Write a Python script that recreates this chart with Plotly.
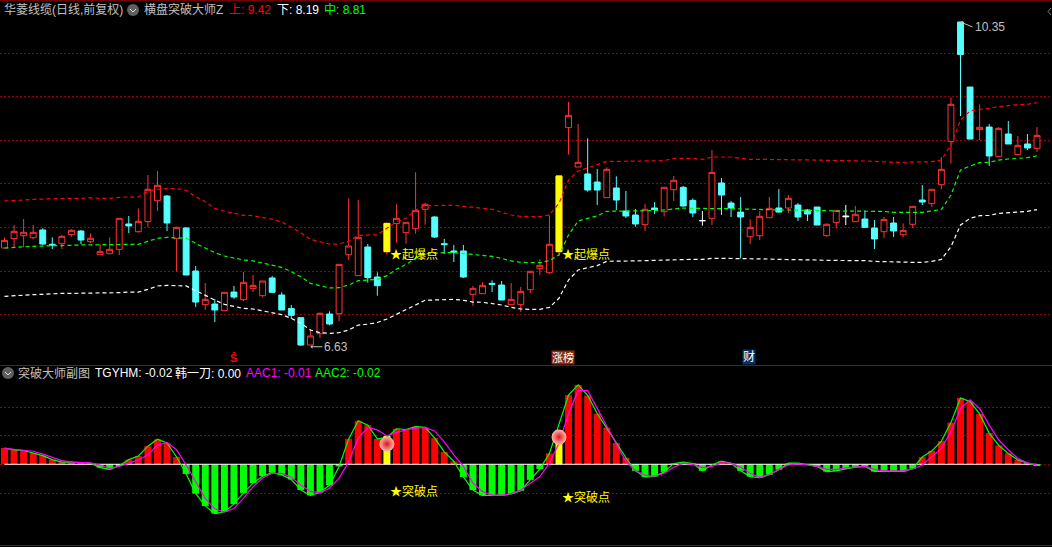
import plotly.graph_objects as go

PAGE_W, PAGE_H = 1052, 547

# Daily candles: open, high, low, close (index 0..108)
highs = [7.87,8.012,8.081,8.012,7.974,7.87,7.897,7.962,7.955,7.916,7.793,7.87,8.089,8.116,8.204,8.588,8.634,8.358,7.993,7.985,7.54,7.344,7.16,7.237,7.31,7.471,7.436,7.367,7.425,7.237,7.091,6.945,6.811,7.006,7.018,7.559,8.319,
         8.30,7.793,7.467,8.031,8.25,8.043,8.619,8.269,8.116,7.851,7.782,7.782,7.31,7.352,7.375,7.367,7.344,7.298,7.479,7.617,8.124,8.577,9.429,9.175,9.01,8.657,8.676,8.573,8.404,8.196,8.254,8.277,8.446,8.577,8.461,8.319,
         8.173,8.876,8.553,8.288,8.334,8.077,8.173,8.334,8.426,8.357,8.265,8.196,8.219,8.031,8.181,8.242,8.231,8.181,8.069,8.104,8.104,8.031,8.227,8.472,8.423,8.795,9.482,10.35,9.601,9.402,9.175,9.14,9.21,9.037,9.06,9.14]
lows = [7.747,7.755,7.755,7.847,7.782,7.736,7.736,7.878,7.793,7.805,7.67,7.682,7.667,7.92,7.924,7.989,8.173,7.943,7.475,7.436,7.068,7.033,6.895,7.026,7.16,7.137,7.24,7.183,7.229,7.033,6.93,6.62,6.63,6.711,6.857,6.907,7.609,
        7.429,7.348,7.198,7.667,7.809,7.797,7.912,8.016,7.862,7.678,7.586,7.402,7.079,7.221,7.24,7.148,7.095,7.01,7.229,7.436,7.452,7.659,8.822,8.68,8.396,8.242,8.327,8.185,8.093,7.993,7.943,8.139,8.108,8.289,8.223,8.104,
        8.004,8.012,8.127,8.104,7.628,7.793,7.839,8.096,8.154,8.15,8.058,8.058,8.012,7.877,7.97,8.012,8.05,7.977,7.735,7.862,7.874,7.874,7.977,8.242,8.219,8.426,8.718,9.267,8.998,8.991,8.691,8.799,8.945,8.822,8.876,8.852]
opens = [7.747,7.855,7.889,7.866,7.955,7.79,7.797,7.901,7.943,7.82,7.67,7.682,7.732,8.024,7.935,8.051,8.292,8.346,7.855,7.978,7.482,7.095,7.102,7.026,7.24,7.152,7.279,7.198,7.402,7.206,7.05,6.945,6.63,6.76,6.987,6.991,7.67,
         7.429,7.759,7.413,7.705,8.028,7.924,7.97,8.193,8.104,7.797,7.713,7.713,7.214,7.221,7.34,7.321,7.095,7.095,7.267,7.509,7.463,7.705,9.133,8.68,8.60,8.507,8.327,8.438,8.173,8.127,8.016,8.208,8.166,8.419,8.446,8.296,
         8.062,8.089,8.496,8.265,8.161,7.877,7.889,8.096,8.208,8.208,8.242,8.185,8.219,7.889,8.039,8.116,8.05,8.081,7.977,7.935,8.035,7.90,8.02,8.30,8.258,8.476,8.975,10.35,9.601,9.11,9.14,8.799,9.06,8.822,8.945,8.891]
closes = [7.835,7.939,7.928,7.928,7.793,7.782,7.882,7.951,7.839,7.859,7.705,7.732,8.089,8.001,8.054,8.423,8.469,8.035,7.985,7.436,7.125,7.156,7.033,7.237,7.183,7.352,7.317,7.367,7.237,7.033,6.972,6.63,6.734,6.995,6.872,7.559,7.77,
          7.87,7.406,7.313,8.031,8.089,8.043,8.181,8.25,7.874,7.786,7.701,7.413,7.283,7.317,7.329,7.148,7.156,7.248,7.479,7.548,7.79,8.577,9.275,8.734,8.415,8.415,8.653,8.30,8.116,8.024,8.193,8.189,8.446,8.527,8.231,8.15,
          8.062,8.618,8.357,8.208,8.104,7.985,8.112,8.204,8.161,8.319,8.104,8.139,8.012,8.02,8.181,8.108,8.135,7.985,7.851,8.077,7.943,7.95,8.227,8.277,8.423,8.653,9.402,9.974,9.002,9.137,8.807,9.125,8.945,8.929,8.899,9.044]

# Candles drawn as white crosses
cross_idx = [73, 88]

# Band lines of the main indicator
upper = [8.289,8.292,8.30,8.308,8.312,8.316,8.316,8.319,8.319,8.327,8.319,8.319,8.331,8.335,8.335,8.40,8.423,8.431,8.431,8.411,8.339,8.281,8.204,8.17,8.143,8.124,8.12,8.10,8.077,8.047,7.985,7.924,7.847,7.816,7.793,7.793,7.824,
         7.893,7.897,7.90,7.974,8.05,8.089,8.185,8.235,8.239,8.239,8.239,8.227,8.216,8.204,8.193,8.158,8.127,8.112,8.112,8.108,8.127,8.262,8.53,8.634,8.669,8.703,8.745,8.745,8.745,8.745,8.745,8.745,8.753,8.78,8.78,8.78,
         8.768,8.795,8.795,8.795,8.78,8.768,8.768,8.768,8.768,8.764,8.764,8.764,8.76,8.757,8.757,8.757,8.753,8.749,8.745,8.737,8.734,8.734,8.734,8.734,8.741,8.76,8.933,9.221,9.325,9.344,9.355,9.375,9.39,9.398,9.402,9.42]
middle = [7.747,7.755,7.763,7.767,7.77,7.77,7.774,7.778,7.782,7.782,7.786,7.786,7.79,7.79,7.79,7.824,7.859,7.87,7.866,7.859,7.801,7.743,7.694,7.655,7.628,7.609,7.598,7.575,7.544,7.525,7.475,7.417,7.34,7.31,7.287,7.29,7.321,
          7.371,7.375,7.386,7.429,7.502,7.559,7.628,7.678,7.69,7.694,7.694,7.682,7.671,7.659,7.651,7.628,7.598,7.582,7.578,7.578,7.601,7.667,7.897,8.058,8.089,8.116,8.17,8.17,8.17,8.17,8.17,8.177,8.185,8.197,8.208,8.204,
          8.20,8.20,8.20,8.20,8.196,8.192,8.188,8.185,8.185,8.185,8.185,8.177,8.177,8.177,8.173,8.173,8.173,8.169,8.169,8.169,8.158,8.158,8.158,8.158,8.173,8.192,8.357,8.645,8.691,8.73,8.734,8.76,8.772,8.776,8.787,8.81]
lower = [7.191,7.198,7.21,7.21,7.214,7.221,7.225,7.225,7.225,7.229,7.225,7.225,7.233,7.24,7.24,7.271,7.31,7.317,7.317,7.31,7.256,7.198,7.148,7.098,7.072,7.052,7.045,7.026,7.006,6.98,6.937,6.88,6.803,6.772,6.765,6.772,6.803,
         6.86,6.87,6.89,6.93,6.983,7.029,7.091,7.145,7.148,7.152,7.156,7.145,7.125,7.122,7.11,7.091,7.064,7.045,7.041,7.041,7.064,7.168,7.379,7.494,7.521,7.544,7.594,7.594,7.594,7.598,7.601,7.605,7.609,7.613,7.617,7.617,
         7.616,7.628,7.628,7.628,7.628,7.62,7.62,7.62,7.616,7.616,7.613,7.609,7.609,7.605,7.605,7.605,7.605,7.601,7.593,7.59,7.582,7.582,7.582,7.582,7.593,7.616,7.762,8.012,8.089,8.119,8.123,8.146,8.158,8.162,8.169,8.19]

# Yellow trigger candles in the main panel
surge_idx = [40, 58]
surge_top = [8.031, 8.577]
surge_bottom = [7.705, 7.705]
surge_label_price = [7.667, 7.667]

# Sub-panel oscillator
aac2 = [.225,.20,.19,.156,.12,.064,.03,.03,.02,.014,-.046,-.07,-.02,.064,.115,.25,.345,.295,.10,-.133,-.405,-.575,-.68,-.655,-.55,-.395,-.26,-.165,-.115,-.147,-.21,-.355,-.43,-.39,-.29,-.03,.35,
        .60,.54,.35,.37,.49,.48,.52,.51,.36,.17,.04,-.175,-.355,-.43,-.43,-.43,-.41,-.365,-.215,-.065,.15,.55,.955,1.095,.95,.70,.505,.295,.09,-.09,-.175,-.17,-.105,.01,.03,.01,
        -.09,-.01,.045,.015,-.09,-.17,-.185,-.145,-.075,.015,.015,-.01,-.03,-.10,-.09,-.065,-.04,-.03,-.10,-.10,-.10,-.10,-.06,.10,.185,.32,.575,.915,.865,.695,.43,.26,.15,.06,.015,-.02]
aac1 = [.22,.21,.195,.18,.14,.095,.05,.03,.025,.02,-.01,-.06,-.03,.015,.06,.13,.265,.30,.20,-.01,-.24,-.47,-.615,-.66,-.61,-.47,-.31,-.19,-.125,-.125,-.18,-.285,-.375,-.39,-.33,-.19,.035,
        .36,.51,.475,.39,.44,.475,.50,.505,.46,.31,.13,-.03,-.26,-.375,-.425,-.425,-.405,-.355,-.26,-.17,.015,.29,.70,1.015,1.015,.77,.52,.265,.035,-.09,-.15,-.165,-.125,-.04,.015,0,
        -.045,-.03,.02,.015,-.04,-.125,-.18,-.145,-.07,-.01,.005,-.01,-.03,-.07,-.07,-.05,-.04,-.03,-.07,-.09,-.09,-.09,-.065,-.01,.105,.22,.45,.77,.89,.77,.54,.335,.20,.08,.02,-.01]
breakout_idx = [40, 58]
breakout_bar = [.39, .473]
ball_value = [.28, .375]
breakout_label_value = [-.382, -.465]

price_grid = [9.99, 9.495, 8.988, 8.489, 7.985, 7.478, 6.983]
osc_grid = [.787, .40, 0, -.40]

index = list(range(len(closes)))
CYAN, RED = "#54FFFF", "#FF3232"
GREY = "#C0C0C0"
CJK = "Liberation Sans, Noto Sans CJK SC"

fig = go.Figure()

plain_idx = [i for i in index if i not in cross_idx]
fig.add_trace(go.Candlestick(
    x=plain_idx,
    open=[opens[i] for i in plain_idx], high=[highs[i] for i in plain_idx],
    low=[lows[i] for i in plain_idx], close=[closes[i] for i in plain_idx],
    increasing=dict(line=dict(color=RED, width=1), fillcolor="#000000"),
    decreasing=dict(line=dict(color=CYAN, width=1), fillcolor=CYAN),
    yaxis="y", hoverinfo="skip"))
fig.add_trace(go.Candlestick(
    x=cross_idx,
    open=[opens[i] for i in cross_idx], high=[highs[i] for i in cross_idx],
    low=[lows[i] for i in cross_idx], close=[closes[i] for i in cross_idx],
    increasing=dict(line=dict(color="#FFFFFF", width=1), fillcolor="#FFFFFF"),
    decreasing=dict(line=dict(color="#FFFFFF", width=1), fillcolor="#FFFFFF"),
    yaxis="y", hoverinfo="skip"))
fig.add_trace(go.Candlestick(
    x=surge_idx, open=surge_bottom, close=surge_top, high=surge_top, low=surge_bottom,
    increasing=dict(line=dict(color="#FFFF00", width=1), fillcolor="#FFFF00"),
    yaxis="y", hoverinfo="skip"))

for series, color in ((upper, "#FF0000"), (middle, "#00FF00"), (lower, "#FFFFFF")):
    fig.add_trace(go.Scatter(x=index, y=series, mode="lines", yaxis="y", hoverinfo="skip",
                             line=dict(color=color, width=1.2, dash="4px,3px")))

bar_values = list(aac2)
bar_colors = ["#FF0000" if v >= 0 else "#00FF00" for v in aac2]
for i, v in zip(breakout_idx, breakout_bar):
    bar_values[i] = v
    bar_colors[i] = "#FFFF00"
fig.add_trace(go.Bar(x=index, y=bar_values, yaxis="y2", width=0.73, hoverinfo="skip",
                     marker=dict(color=bar_colors, line=dict(width=0))))
fig.add_trace(go.Scatter(x=index, y=[0] * len(index), mode="lines", yaxis="y2", hoverinfo="skip",
                         line=dict(color="#FFFFFF", width=1)))
fig.add_trace(go.Scatter(x=index, y=aac2, mode="lines", yaxis="y2", hoverinfo="skip",
                         line=dict(color="#00FF00", width=1.2)))
fig.add_trace(go.Scatter(x=index, y=aac1, mode="lines", yaxis="y2", hoverinfo="skip",
                         line=dict(color="#FF00FF", width=1.2)))
fig.add_trace(go.Scatter(x=breakout_idx, y=ball_value, mode="markers", yaxis="y2", hoverinfo="skip",
                         marker=dict(size=15, color="#FFB8B0", line=dict(width=0),
                                     gradient=dict(type="radial", color="#D81818"))))


def paper_y(px):
    return 1 - px / PAGE_H


ann = []


def header(px, py, text, color, size=12):
    ann.append(dict(xref="paper", yref="paper", x=px / PAGE_W, y=paper_y(py), text=text,
                    showarrow=False, xanchor="left", yanchor="middle",
                    font=dict(family=CJK, size=size, color=color)))


header(2, 10, "华菱线缆(日线,前复权)", GREY)
header(142, 10, "横盘突破大师Z", GREY)
header(227, 10, "上: 9.42", "#FF0000")
header(275, 10, "下: 8.19", "#FFFFFF")
header(322, 10, "中: 8.81", "#00FF00")
header(16, 373, "突破大师副图", GREY)
header(93, 373, "TGYHM: -0.02", "#FFFFFF")
header(173, 373, "韩一刀: 0.00", "#FFFFFF")
header(244, 373, "AAC1: -0.01", "#FF00FF")
header(313, 373, "AAC2: -0.02", "#00FF00")

for i, p in zip(surge_idx, surge_label_price):
    ann.append(dict(x=i + 0.1, y=p, xref="x", yref="y", text="★起爆点", showarrow=False, xanchor="left",
                    yanchor="middle", font=dict(family=CJK, size=12, color="#FFFF00")))
for i, v in zip(breakout_idx, breakout_label_value):
    ann.append(dict(x=i + 0.1, y=v, xref="x", yref="y2", text="★突破点", showarrow=False, xanchor="left",
                    yanchor="middle", font=dict(family=CJK, size=12, color="#FFFF00")))

ann.append(dict(x=100, y=10.35, xref="x", yref="y", text="10.35", showarrow=True, arrowhead=1, arrowsize=0.7,
                arrowwidth=1, arrowcolor=GREY, ax=12, ay=5, xanchor="left", yanchor="middle",
                font=dict(family=CJK, size=12, color=GREY)))
ann.append(dict(x=32, y=6.61, xref="x", yref="y", text="6.63", showarrow=True, arrowhead=1, arrowsize=0.7,
                arrowwidth=1, arrowcolor=GREY, ax=12, ay=0, xanchor="left", yanchor="middle",
                font=dict(family=CJK, size=12, color=GREY)))

ann.append(dict(x=24, y=paper_y(358), xref="x", yref="paper", text="<b>Ŝ</b>", showarrow=False,
                font=dict(family=CJK, size=11, color="#FF0000")))
ann.append(dict(x=58.4, y=paper_y(357), xref="x", yref="paper", text="涨榜", showarrow=False, bgcolor="#8A2A00",
                borderpad=0, font=dict(family=CJK, size=11, color="#FFFFFF")))
ann.append(dict(x=77.9, y=paper_y(357), xref="x", yref="paper", text="财", showarrow=False, bgcolor="#0A3060",
                borderpad=0, font=dict(family=CJK, size=12, color="#FFFFFF")))

shapes = []
for py in (0.8, 365.5, 545.5):
    shapes.append(dict(type="line", xref="paper", yref="paper", x0=0, x1=1, y0=paper_y(py), y1=paper_y(py),
                       line=dict(color="#A00000", width=1)))
for cx, cy in ((133, 10), (8, 373)):
    shapes.append(dict(type="circle", xref="paper", yref="paper",
                       x0=(cx - 6) / PAGE_W, x1=(cx + 6) / PAGE_W, y0=paper_y(cy + 6), y1=paper_y(cy - 6),
                       fillcolor="#606060", line=dict(width=0)))
    shapes.append(dict(type="path", xref="paper", yref="paper",
                       path=f"M {(cx-3)/PAGE_W} {paper_y(cy-1)} L {cx/PAGE_W} {paper_y(cy+2)} L {(cx+3)/PAGE_W} {paper_y(cy-1)}",
                       line=dict(color="#E0E0E0", width=1)))
shapes.append(dict(type="path", xref="paper", yref="paper",
                   path=f"M {1051/PAGE_W} {paper_y(8)} L {1048/PAGE_W} {paper_y(11.5)} L {1051/PAGE_W} {paper_y(15)}",
                   line=dict(color="#808080", width=1)))

grid = dict(showgrid=True, gridcolor="#9A0000", gridwidth=1, griddash="2px,2px", zeroline=False,
            showticklabels=False, ticks="", showline=False, tickmode="array")
fig.update_layout(
    width=PAGE_W, height=PAGE_H, margin=dict(l=0, r=0, t=0, b=0),
    paper_bgcolor="#000000", plot_bgcolor="#000000", showlegend=False, barmode="overlay", boxgap=0.12,
    font=dict(family=CJK),
    xaxis=dict(range=[-0.47, 109.57], showgrid=False, zeroline=False, showticklabels=False,
               ticks="", rangeslider=dict(visible=False), fixedrange=True),
    yaxis=dict(domain=[paper_y(365), 1], range=[6.4, 10.603], tickvals=price_grid, fixedrange=True, **grid),
    yaxis2=dict(domain=[paper_y(545), paper_y(365)], range=[-1.114, 1.37], tickvals=osc_grid,
                anchor="x", fixedrange=True, **grid),
    annotations=ann, shapes=shapes,
)
fig.write_html("out.html", config=dict(displayModeBar=False),
               post_script="document.body.style.margin='0';document.body.style.background='#000';document.body.style.overflow='hidden';")
